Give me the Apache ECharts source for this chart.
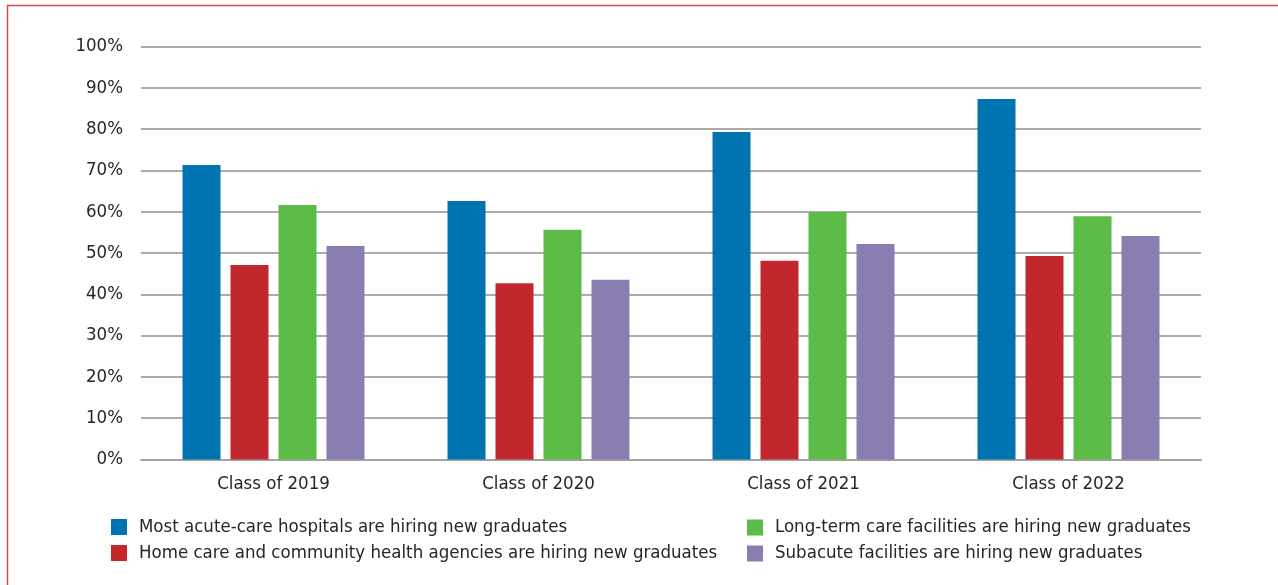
<!DOCTYPE html>
<html>
<head>
<meta charset="utf-8">
<script src="https://cdn.jsdelivr.net/npm/echarts@6/dist/echarts.min.js"></script>
<style>
  html, body { margin: 0; padding: 0; background: #fff; }
  #chart { width: 1278px; height: 585px; }
</style>
</head>
<body>
<div id="chart"></div>
<script>
// Share of respondents reporting hiring of new graduates, by setting and class year
const categories = ['Class of 2019', 'Class of 2020', 'Class of 2021', 'Class of 2022'];
const acuteCare = [71.3, 62.6, 79.3, 87.3];
const homeCare = [47.1, 42.7, 48.1, 49.3];
const longTermCare = [61.6, 55.6, 59.9, 58.9];
const subacute = [51.7, 43.5, 52.2, 54.1];
const yTicks = [0, 10, 20, 30, 40, 50, 60, 70, 80, 90, 100];

const seriesNames = [
  'Most acute-care hospitals are hiring new graduates',
  'Home care and community health agencies are hiring new graduates',
  'Long-term care facilities are hiring new graduates',
  'Subacute facilities are hiring new graduates'
];
const seriesColors = ['#0073b1', '#c1272d', '#5dbb47', '#8a7db1'];
const seriesData = [acuteCare, homeCare, longTermCare, subacute];

const FONT = "'DejaVu Sans Condensed', 'Liberation Sans Narrow', sans-serif";
const FONT_SIZE = 18.5;
const TEXT = '#262626';

const chart = echarts.init(document.getElementById('chart'), null, { renderer: 'canvas' });

// legend text sits 5px after the swatch by default; pad it further out
const legendText = { fontFamily: FONT, fontSize: FONT_SIZE, color: TEXT, padding: [0, 0, 0, 7] };

chart.setOption({
  animation: false,
  backgroundColor: '#ffffff',
  graphic: [{
    type: 'rect',
    shape: { x: 7.5, y: 5.5, width: 1400, height: 700 },
    style: { fill: 'none', stroke: '#d34a4a', lineWidth: 1.5 },
    silent: true
  }],
  grid: { left: 141, right: 77, top: 46.5, bottom: 125.5 },
  xAxis: {
    type: 'category',
    data: categories,
    axisTick: { show: false },
    axisLine: { lineStyle: { color: '#a3a3a3', width: 2 } },
    axisLabel: { fontFamily: FONT, fontSize: FONT_SIZE, color: TEXT, margin: 15 }
  },
  yAxis: {
    type: 'value',
    min: yTicks[0],
    max: yTicks[yTicks.length - 1],
    interval: yTicks[1] - yTicks[0],
    axisLine: { show: false },
    axisTick: { show: false },
    splitLine: { lineStyle: { color: '#acacac', width: 2 } },
    axisLabel: { fontFamily: FONT, fontSize: FONT_SIZE, color: TEXT, margin: 18, formatter: '{value}%' }
  },
  legend: [
    {
      data: seriesNames.slice(0, 2),
      orient: 'vertical',
      left: 111, top: 517.5,
      itemWidth: 16, itemHeight: 16, itemGap: 7,
      icon: 'rect',
      textStyle: legendText,
      padding: 0
    },
    {
      data: seriesNames.slice(2, 4),
      orient: 'vertical',
      left: 747, top: 518,
      itemWidth: 16, itemHeight: 16, itemGap: 7,
      icon: 'rect',
      textStyle: legendText,
      padding: 0
    }
  ],
  series: seriesNames.map((name, i) => ({
    name,
    type: 'bar',
    data: seriesData[i],
    barWidth: 38,
    barGap: '26.3%',
    itemStyle: { color: seriesColors[i] }
  }))
});
</script>
</body>
</html>
